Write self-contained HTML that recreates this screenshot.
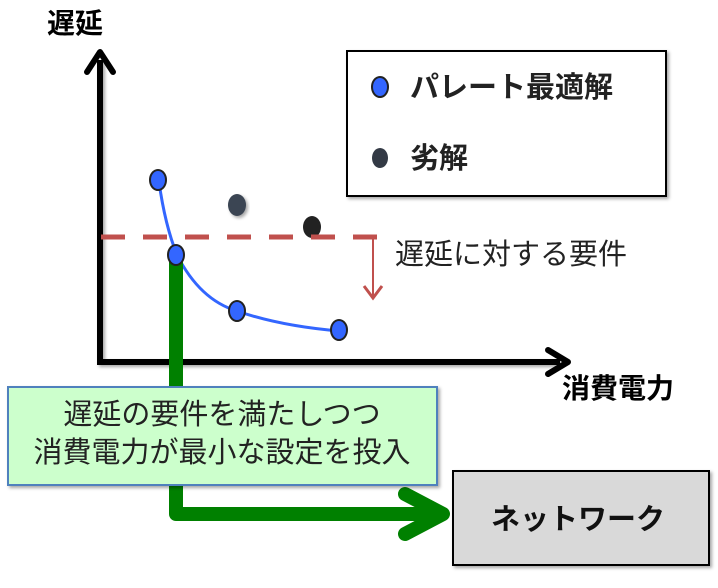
<!DOCTYPE html>
<html><head><meta charset="utf-8"><style>
body{margin:0;width:718px;height:588px;background:#fff;overflow:hidden}
svg{display:block}
text{font-family:"Liberation Sans","Noto Sans CJK JP",sans-serif}
</style></head><body>
<svg width="718" height="588" viewBox="0 0 718 588">
<defs><filter id="sh" x="-10%" y="-10%" width="130%" height="130%"><feDropShadow dx="2" dy="2" stdDeviation="1.5" flood-opacity="0.35"/></filter></defs>
<polyline points="100,60 100,362 560,362" fill="none" stroke="#000" stroke-width="6" filter="url(#sh)"/>
<polyline points="87,72 100,52 113,72" fill="none" stroke="#000" stroke-width="6" stroke-linecap="round" stroke-linejoin="round"/>
<polyline points="548,350 568,362 548,374" fill="none" stroke="#000" stroke-width="6" stroke-linecap="round" stroke-linejoin="round"/>
<text x="47" y="33" font-size="28" font-weight="bold">遅延</text>
<text x="562" y="398" font-size="28" font-weight="bold">消費電力</text>
<rect x="347" y="51" width="319" height="145" fill="#fff" stroke="#000" stroke-width="2" filter="url(#sh)"/>
<ellipse cx="380" cy="87" rx="8" ry="10" fill="#3366ff" stroke="#222" stroke-width="2"/>
<text x="410" y="97" font-size="29" font-weight="bold" fill="#222">パレート最適解</text>
<ellipse cx="380" cy="158" rx="8" ry="10" fill="#333a45"/>
<text x="410" y="168" font-size="29" font-weight="bold" fill="#222">劣解</text>
<path d="M159,182 Q165,225 177,255 Q200,300 237,311 Q280,326 339,331" fill="none" stroke="#3366ff" stroke-width="3"/>
<ellipse cx="237" cy="205" rx="9" ry="11" fill="#3a4452" filter="url(#sh)"/>
<ellipse cx="312" cy="227" rx="9" ry="11" fill="#222"/>
<line x1="101" y1="237" x2="377" y2="237" stroke="#c0504d" stroke-width="5" stroke-dasharray="24,18"/>
<line x1="373" y1="237" x2="373" y2="297" stroke="#c0504d" stroke-width="2"/>
<polyline points="364,286 373,298 382,286" fill="none" stroke="#c0504d" stroke-width="3"/>
<text x="395" y="264" font-size="29" fill="#222">遅延に対する要件</text>
<polyline points="176,262 176,514 438,514" fill="none" stroke="#008000" stroke-width="14" stroke-linejoin="round"/>
<polyline points="405,494 443,514 405,534" fill="none" stroke="#008000" stroke-width="14" stroke-linecap="round" stroke-linejoin="round"/>
<ellipse cx="158" cy="180" rx="8" ry="10" fill="#3366ff" stroke="#222" stroke-width="2"/>
<ellipse cx="176" cy="255" rx="8" ry="10" fill="#3366ff" stroke="#222" stroke-width="2"/>
<ellipse cx="237" cy="311" rx="8" ry="10" fill="#3366ff" stroke="#222" stroke-width="2"/>
<ellipse cx="339" cy="330" rx="8" ry="10" fill="#3366ff" stroke="#222" stroke-width="2"/>
<rect x="8" y="387" width="429" height="98" fill="#ccffcc" stroke="#4f81bd" stroke-width="2" filter="url(#sh)"/>
<text x="222" y="424" font-size="29" text-anchor="middle" fill="#222">遅延の要件を満たしつつ</text>
<text x="222" y="462" font-size="29" text-anchor="middle" fill="#222">消費電力が最小な設定を投入</text>
<rect x="453" y="471" width="256" height="94" fill="#d9d9d9" stroke="#000" stroke-width="2" filter="url(#sh)"/>
<text x="578" y="529" font-size="29" font-weight="bold" text-anchor="middle" fill="#111">ネットワーク</text>
</svg>
</body></html>
